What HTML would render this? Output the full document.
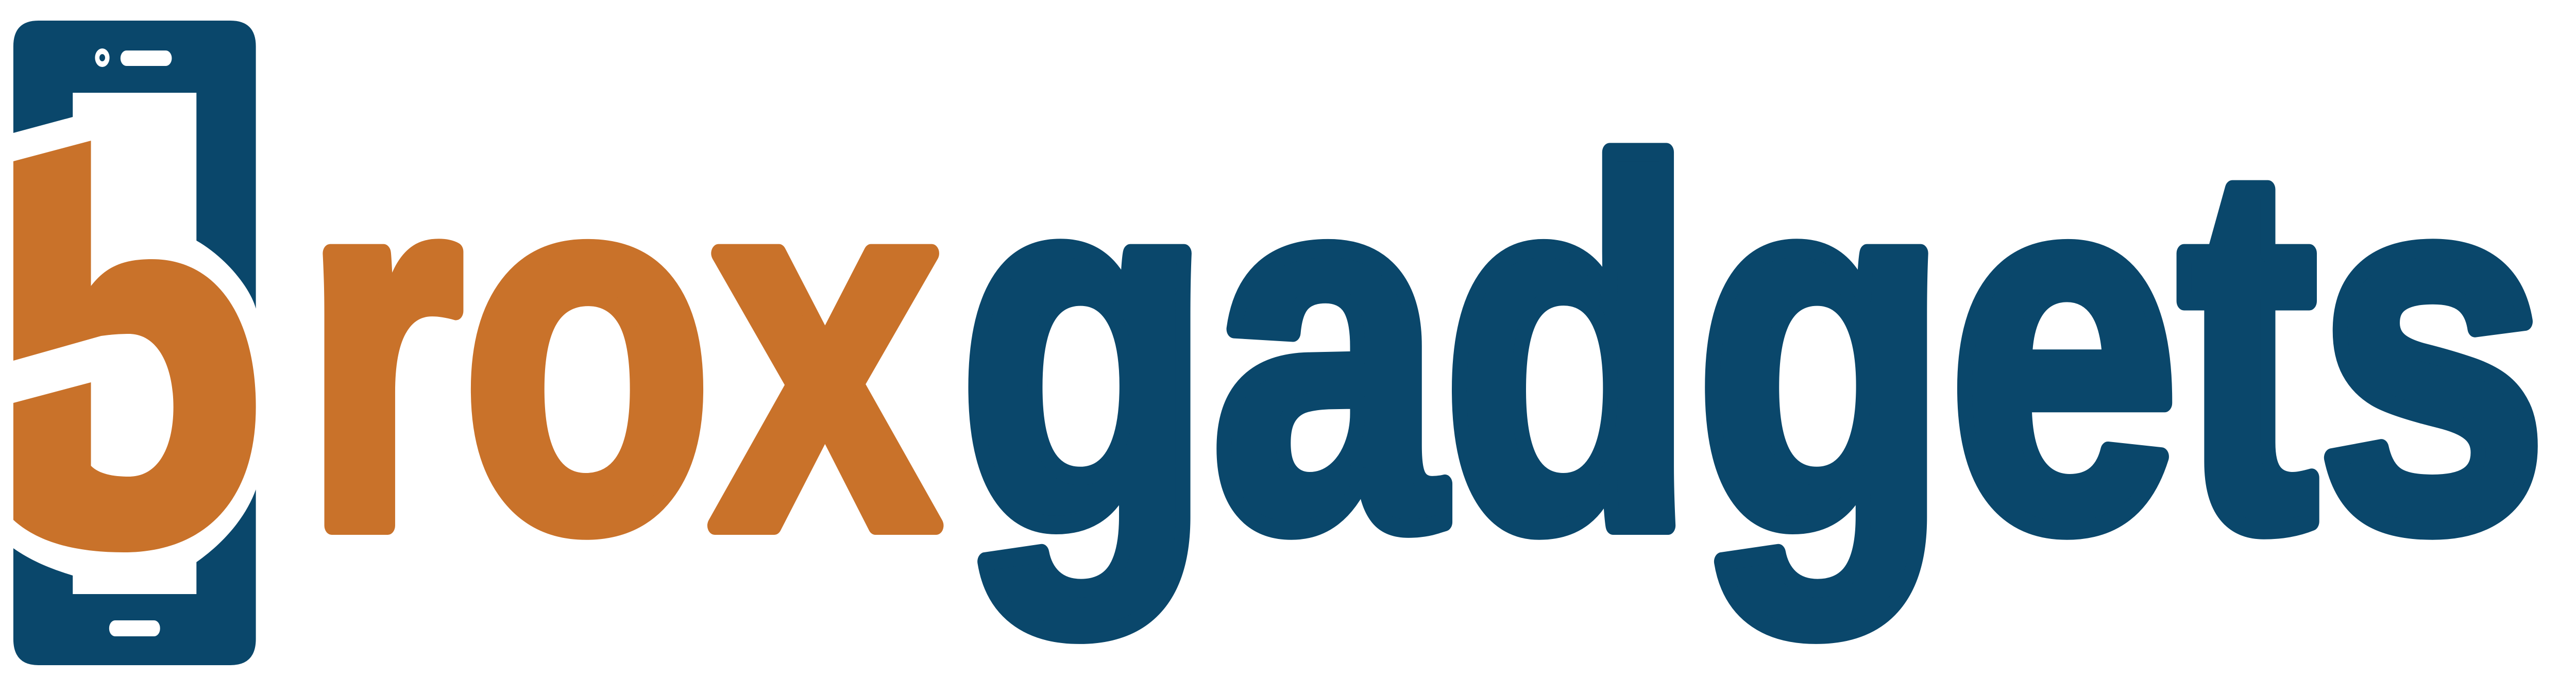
<!DOCTYPE html>
<html><head><meta charset="utf-8"><style>html,body{margin:0;padding:0;background:#fff;overflow:hidden;width:100%;height:100%}svg{display:block;width:100vw;height:100vh}</style></head>
<body>
<svg viewBox="0 0 6373 1312" preserveAspectRatio="none" xmlns="http://www.w3.org/2000/svg">
<g fill="#0a476b">
<path d="M33,258 L33,90 Q33,40 95,40 L570,40 Q633,40 633,90 L633,599 C620,560 560,500 486,467 L486,180 L180,180 L180,227 Z"/>
<path d="M33,1064 C80,1090 130,1105 180,1117 L180,1153 L486,1153 L486,1091 C560,1050 610,1000 633,950 L633,1240 Q633,1291 570,1291 L95,1291 Q33,1291 33,1240 Z"/>
</g>
<circle cx="253" cy="112" r="18" fill="#fff"/>
<circle cx="253" cy="112" r="7" fill="#0a476b"/>
<rect x="298" y="98" width="127" height="30" rx="15" fill="#fff"/>
<rect x="270" y="1204" width="126" height="31" rx="15" fill="#fff"/>
<path fill="#c9722a" fill-rule="evenodd" d="M33,313 L225,273 L225,555 C260,520 300,503 376,503 C540,503 633,620 633,790 C633,960 520,1072 306,1072 C180,1072 90,1050 33,1009 L33,782 L225,742 L225,904 C245,920 280,925 319,925 C390,925 429,870 429,790 C429,710 390,648 319,648 C290,648 270,650 250,652 L33,700 Z"/>
<text id="t1" x="0" y="1020" font-family="Liberation Sans, sans-serif" font-weight="bold" font-size="1000" fill="#c9722a" stroke="#c9722a" stroke-width="36" stroke-linejoin="round">rox</text>
<text id="t2" x="0" y="1020" font-family="Liberation Sans, sans-serif" font-weight="bold" font-size="1000" fill="#0a476b" stroke="#0a476b" stroke-width="36" stroke-linejoin="round">gadgets</text>
</svg>
<script>
function fit(id, left, width){
  var t=document.getElementById(id);
  var b=t.getBBox();
  var s=width/b.width;
  t.setAttribute('transform','translate('+(left - b.x*s)+',0) scale('+s+',1)');
}
fit('t1',750,1580);
fit('t2',2372,3930);
</script>
</body></html>
